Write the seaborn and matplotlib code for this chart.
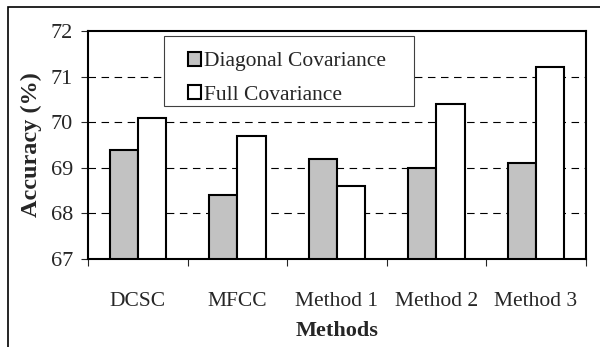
import matplotlib
matplotlib.use("Agg")
import matplotlib.pyplot as plt
import matplotlib.patches as mpatches
import seaborn as sns
import pandas as pd

methods = ["DCSC", "MFCC", "Method 1", "Method 2", "Method 3"]
diagonal = [69.4, 68.4, 69.2, 69.0, 69.1]
full = [70.1, 69.7, 68.6, 70.4, 71.2]
series_names = ["Diagonal Covariance", "Full Covariance"]
y_ticks = [67, 68, 69, 70, 71, 72]

df = pd.DataFrame({
    "Method": methods * 2,
    "Accuracy": diagonal + full,
    "Series": [series_names[0]] * len(methods) + [series_names[1]] * len(methods),
})

sns.set_style("white")
plt.rcParams["font.family"] = ["Liberation Serif", "DejaVu Serif"]

fig = plt.figure(figsize=(6.0, 3.47), dpi=100)
ax = fig.add_axes([0.147, 0.2536, 0.829, 0.6571])

sns.barplot(data=df, x="Method", y="Accuracy", hue="Series", order=methods,
            hue_order=series_names, palette=["#c2c2c2", "#ffffff"],
            width=0.567, edgecolor="black", linewidth=1.5, ax=ax,
            saturation=1, errorbar=None)

ax.set_ylim(67, 72)
ax.set_xlim(-0.5, 4.5)
ax.set_yticks(y_ticks)
ax.set_yticklabels([str(t) for t in y_ticks], fontsize=16)
ax.set_axisbelow(True)
for v in y_ticks[1:-1]:
    ax.axhline(v, color="black", lw=0.8, linestyle=(0, (6.75, 5)), zorder=0)

ax.set_xticks(range(len(methods)))
ax.set_xticklabels(methods, fontsize=15.5)
ax.tick_params(axis="x", which="major", length=0, pad=24)
ax.set_xticks([i - 0.5 for i in range(len(methods) + 1)], minor=True)
ax.tick_params(axis="x", which="minor", length=5, width=0.8, direction="out", bottom=True)
ax.tick_params(axis="y", length=5, width=0.8, direction="out", left=True, pad=6)

for s in ax.spines.values():
    s.set_visible(True)
    s.set_color("black")
    s.set_linewidth(1.5)

ax.set_xlabel("Methods", fontsize=16, fontweight="bold", labelpad=7)
ax.set_ylabel("Accuracy (%)", fontsize=17.5, fontweight="bold", labelpad=6)

leg = ax.legend(loc="upper left", bbox_to_anchor=(0.2, 0.908), fontsize=15.5,
                frameon=False, handlelength=0.6, handleheight=0.6,
                handletextpad=0.15, borderpad=0, labelspacing=0.64,
                borderaxespad=0, title=None)

legend_box = mpatches.Rectangle((0.152, 0.671), 0.503, 0.307, transform=ax.transAxes,
                                facecolor="white", edgecolor="#404040", lw=0.8, zorder=4)
ax.add_patch(legend_box)
leg.set_zorder(5)

frame = mpatches.Rectangle((8 / 600, -0.1), 1.2, 1.1 - 7 / 347,
                           transform=fig.transFigure, fill=False,
                           edgecolor="black", lw=1.2, clip_on=False)
fig.patches.append(frame)

fig.savefig("out.png", dpi=100)
